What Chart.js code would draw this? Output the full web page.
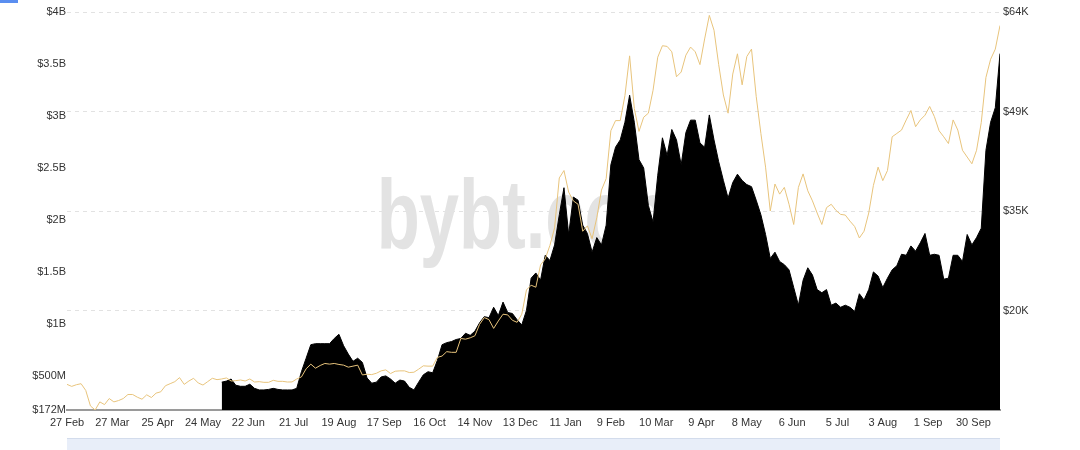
<!DOCTYPE html>
<html>
<head>
<meta charset="utf-8">
<script src="https://cdn.jsdelivr.net/npm/chart.js@4.4.0/dist/chart.umd.min.js"></script>
<style>
html, body { margin: 0; padding: 0; background: #fff; }
#wrap { width: 1080px; height: 450px; }
</style>
</head>
<body>
<div id="wrap"><canvas id="oiChart" width="1080" height="450"></canvas></div>
<script>
// one sample every 3 days, first sample = 27 Feb 2020
const dayStep = 3;
const tickEvery = 29;
const tickLabels = ['27 Feb', '27 Mar', '25 Apr', '24 May', '22 Jun', '21 Jul', '19 Aug', '17 Sep', '16 Oct', '14 Nov',
    '13 Dec', '11 Jan', '9 Feb', '10 Mar', '9 Apr', '8 May', '6 Jun', '5 Jul', '3 Aug', '1 Sep', '30 Sep'];

// left axis, $ billions
const oiTicks = [0.172, 0.5, 1, 1.5, 2, 2.5, 3, 3.5, 4];
const oiTickLabels = ['$172M', '$500M', '$1B', '$1.5B', '$2B', '$2.5B', '$3B', '$3.5B', '$4B'];
// right axis, $ thousands
const priceTicks = [19.75, 34.5, 49.25, 64];
const priceTickLabels = ['$20K', '$35K', '$49K', '$64K'];

// open interest ($B), begins at sample 33 (early June 2020)
const oiStart = 33;
const openInterest = [
    0.44, 0.45, 0.47, 0.41, 0.40, 0.40, 0.42, 0.38, 0.365, 0.365,
    0.37, 0.38, 0.37, 0.365, 0.365, 0.365, 0.38, 0.54, 0.67, 0.80,
    0.81, 0.81, 0.81, 0.81, 0.86, 0.90, 0.79, 0.71, 0.64, 0.67,
    0.63, 0.48, 0.43, 0.44, 0.49, 0.50, 0.47, 0.43, 0.46, 0.45,
    0.39, 0.365, 0.44, 0.51, 0.54, 0.53, 0.65, 0.80, 0.82, 0.83,
    0.85, 0.86, 0.91, 0.89, 0.93, 1.01, 1.07, 1.06, 1.16, 1.08,
    1.21, 1.11, 1.10, 1.04, 0.99, 1.13, 1.44, 1.49, 1.42, 1.66,
    1.61, 1.76, 2.05, 2.31, 1.86, 2.22, 2.19, 1.95, 1.87, 1.69,
    1.83, 1.76, 1.95, 2.53, 2.70, 2.77, 2.94, 3.20, 2.94, 2.58,
    2.50, 2.14, 1.98, 2.43, 2.79, 2.62, 2.87, 2.77, 2.53, 2.84,
    2.96, 2.96, 2.74, 2.70, 3.01, 2.77, 2.56, 2.38, 2.21, 2.36,
    2.44, 2.38, 2.34, 2.32, 2.19, 2.05, 1.86, 1.63, 1.69, 1.60,
    1.57, 1.52, 1.35, 1.18, 1.42, 1.54, 1.47, 1.33, 1.30, 1.33,
    1.18, 1.20, 1.16, 1.18, 1.16, 1.12, 1.29, 1.23, 1.33, 1.50,
    1.46, 1.35, 1.44, 1.52, 1.56, 1.67, 1.66, 1.75, 1.70, 1.78,
    1.87, 1.66, 1.67, 1.66, 1.43, 1.44, 1.66, 1.66, 1.60, 1.86,
    1.76, 1.83, 1.92, 2.67, 2.94, 3.08, 3.60
];

// BTC price ($K)
const btcPrice = [
    8.8, 8.5, 8.75, 8.9, 7.9, 5.6, 5.0, 6.2, 5.8, 6.7,
    6.2, 6.4, 6.7, 7.3, 7.3, 6.9, 6.6, 7.25, 6.85, 7.5,
    7.7, 8.6, 8.9, 9.2, 9.8, 8.8, 9.3, 9.7, 9.0, 8.7,
    9.2, 9.7, 9.5, 9.6, 9.75, 9.3, 9.35, 9.45, 9.3, 9.6,
    9.15, 9.2, 9.1, 9.1, 9.4, 9.25, 9.25, 9.15, 9.16, 9.6,
    9.9, 11.1, 11.8, 11.2, 11.6, 11.9, 11.8, 11.9, 11.75, 11.65,
    11.35, 11.5, 11.65, 10.2, 10.3, 10.25, 10.45, 10.8, 10.95, 10.4,
    10.75, 10.8, 10.8, 10.55, 10.6, 11.05, 11.55, 11.5, 11.5, 12.8,
    13.0, 13.65, 13.55, 13.55, 15.6, 15.5, 15.7, 16.0, 17.7, 18.7,
    18.4, 17.1, 18.2, 19.2, 19.1, 18.3, 18.0, 19.2, 22.8, 23.5,
    23.2, 26.5, 27.4, 29.4, 32.0, 39.4, 40.5, 37.3, 36.0, 35.5,
    31.5, 32.3, 30.4, 33.5, 37.6, 39.3, 46.4, 47.9, 47.9, 51.6,
    57.5, 49.7, 46.3, 48.4, 49.0, 52.4, 57.3, 59.0, 58.9, 58.1,
    54.4, 55.1, 57.6, 58.8, 58.1, 56.2, 60.0, 63.5, 61.3, 56.2,
    51.7, 49.0, 54.8, 57.8, 53.2, 57.4, 58.5, 51.5, 46.0, 41.0,
    34.5, 38.5, 37.0, 38.0, 35.5, 32.5, 38.0, 40.0, 37.5, 36.0,
    34.2, 32.5, 35.0, 35.5, 34.6, 34.0, 33.9, 33.0, 32.2, 30.5,
    31.5, 34.2, 38.3, 41.0, 39.0, 40.5, 45.5, 46.0, 46.5, 48.0,
    49.4, 47.0, 48.0, 48.7, 50.0, 48.5, 46.4, 45.5, 44.5, 48.0,
    46.5, 43.5, 42.5, 41.5, 43.5, 47.6, 54.3, 57.0, 58.5, 62.0
];

const toPoints = (arr, start) => arr.map((v, k) => ({ x: (start + k) * dayStep, y: v }));
const lastDay = (btcPrice.length - 1) * dayStep;

const tickFont = { family: '"Liberation Sans", Arial, sans-serif', size: 11 };

// big grey "bybt.com" behind the data
const watermark = {
    id: 'watermark',
    beforeDatasetsDraw(chart) {
        const { ctx, chartArea: a } = chart;
        ctx.save();
        ctx.fillStyle = '#e3e3e3';
        ctx.font = 'bold 98px "Liberation Sans", Arial, sans-serif';
        ctx.textAlign = 'center';
        ctx.translate((a.left + a.right) / 2, a.top + 236);
        ctx.scale(0.72, 1);
        ctx.fillText('bybt.com', 0, 0);
        ctx.restore();
    }
};

// zoom slider strip under the axis + cut-off legend marker
const decor = {
    id: 'decor',
    afterDraw(chart) {
        const { ctx, chartArea: a } = chart;
        ctx.save();
        ctx.fillStyle = '#e8eef9';
        ctx.fillRect(a.left, a.bottom + 28, a.right - a.left, chart.height - a.bottom - 28);
        ctx.fillStyle = '#d3dcec';
        ctx.fillRect(a.left, a.bottom + 28, a.right - a.left, 1);
        ctx.fillStyle = '#5a8ef0';
        ctx.fillRect(0, 0, 18, 3);
        ctx.restore();
    }
};

new Chart(document.getElementById('oiChart'), {
    type: 'line',
    data: {
        datasets: [{
            label: 'Price',
            data: toPoints(btcPrice, 0),
            yAxisID: 'y1',
            borderColor: '#e8c47c',
            borderWidth: 1,
            pointRadius: 0,
            fill: false,
            order: 0
        }, {
            label: 'Open Interest',
            data: toPoints(openInterest, oiStart),
            yAxisID: 'y',
            borderColor: '#000',
            backgroundColor: '#000',
            borderWidth: 1,
            pointRadius: 0,
            fill: 'start',
            order: 1
        }]
    },
    options: {
        responsive: false,
        animation: false,
        devicePixelRatio: 1,
        layout: { padding: { top: 12, left: 0, right: 0, bottom: 0 } },
        plugins: { legend: { display: false }, tooltip: { enabled: false } },
        scales: {
            x: {
                type: 'linear',
                min: 0,
                max: lastDay,
                grid: { display: false, drawTicks: false },
                border: { display: true, color: '#9a9a9a', width: 2 },
                afterBuildTicks: axis => { axis.ticks = tickLabels.map((_, k) => ({ value: k * tickEvery })); },
                afterFit: axis => { axis.height = 40; },
                ticks: {
                    autoSkip: false,
                    maxRotation: 0,
                    padding: 6,
                    color: '#333',
                    font: tickFont,
                    callback: v => tickLabels[Math.round(v / tickEvery)]
                }
            },
            y: {
                position: 'left',
                min: 0.172,
                max: 4,
                grid: { display: false, drawTicks: false },
                border: { display: false },
                afterBuildTicks: axis => { axis.ticks = oiTicks.map(v => ({ value: v })); },
                afterFit: axis => { axis.width = 67; },
                ticks: {
                    padding: 1,
                    color: '#333',
                    font: tickFont,
                    callback: (v, i) => oiTickLabels[i]
                }
            },
            y1: {
                position: 'right',
                min: 5,
                max: 64,
                grid: { color: '#e2e2e2', drawTicks: false },
                border: { display: false, dash: [4, 4] },
                afterBuildTicks: axis => { axis.ticks = priceTicks.map(v => ({ value: v })); },
                afterFit: axis => { axis.width = 80; },
                ticks: {
                    padding: 3,
                    color: '#333',
                    font: tickFont,
                    callback: (v, i) => priceTickLabels[i]
                }
            }
        }
    },
    plugins: [watermark, decor]
});
</script>
</body>
</html>
